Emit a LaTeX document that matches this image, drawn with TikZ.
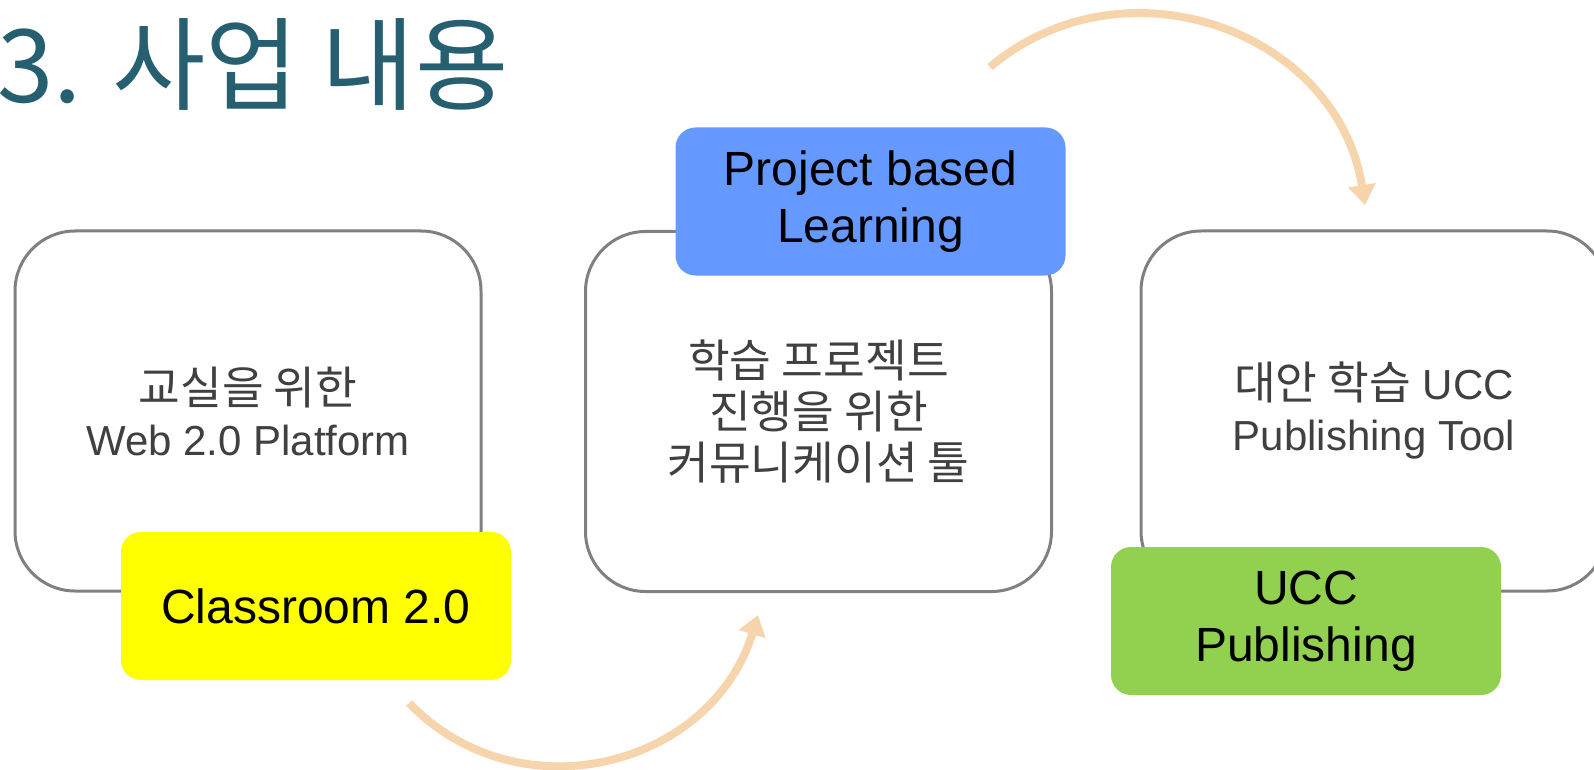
\documentclass[tikz,border=0pt]{standalone}
\usepackage{fontspec}
\setmainfont{Liberation Sans}
\newfontfamily\krfont[Scale=1.08]{Noto Sans CJK KR}
\usetikzlibrary{positioning,arrows.meta}
\definecolor{boxgray}{RGB}{128,128,128}
\definecolor{textgray}{RGB}{64,64,64}
\definecolor{titleteal}{RGB}{38,96,112}
\definecolor{arcpeach}{RGB}{247,213,172}
\definecolor{tagyellow}{RGB}{255,255,0}
\definecolor{tagblue}{RGB}{102,153,255}
\definecolor{taggreen}{RGB}{146,208,80}
\begin{document}
\begin{tikzpicture}[x=0.5pt,y=0.5pt,on grid,
   stage/.style={draw=boxgray,line width=1.5pt,rounded corners=30pt,minimum width=233pt,minimum height=180pt,
                 align=center,text=textgray,font=\fontsize{21}{25.5}\selectfont},
   tag/.style={rounded corners=10pt,minimum width=195pt,minimum height=74pt,align=center,
               font=\fontsize{24}{28.5}\selectfont},
   flow/.style={draw=arcpeach,line width=4pt,-{Triangle[width=13.5pt,length=10pt]},looseness=1.13}]
   \useasboundingbox (0,0) rectangle (1594,-770);
   \node[anchor=base west,inner sep=0,text=titleteal,font=\krfont\fontsize{47}{47}\selectfont] (title) at (-3,-103) {3. 사업 내용};

   \node[stage] (web)  at (248,-411)    {{\krfont 교실을 위한}\\Web 2.0 Platform};
   \node[stage] (pbl)  at (818.5,-411.5) {{\krfont 학습 프로젝트}\\{\krfont 진행을 위한}\\{\krfont 커뮤니케이션 툴}};
   \node[stage] (ucc)  at (1374,-411)   {{\krfont 대안 학습} UCC\\Publishing Tool};

   \node[tag,fill=tagyellow] (classroom) [below right=97.5pt and 34pt of web]  {Classroom 2.0};
   \node[tag,fill=tagblue]   (project)   [above right=105pt and 26pt of pbl]   {Project based\\Learning};
   \node[tag,fill=taggreen]  (publish)   [below left=105pt and 34pt of ucc]    {UCC\\Publishing};

   \coordinate (a1) at (409,-703);
   \coordinate (a2) at (758,-615);
   \coordinate (b1) at (990,-67);
   \coordinate (b2) at (1365,-205);
   \draw[flow] (a1) to[out=-46,in=-107] (a2);
   \draw[flow] (b1) to[out=40,in=99] (b2);
\end{tikzpicture}
\end{document}
